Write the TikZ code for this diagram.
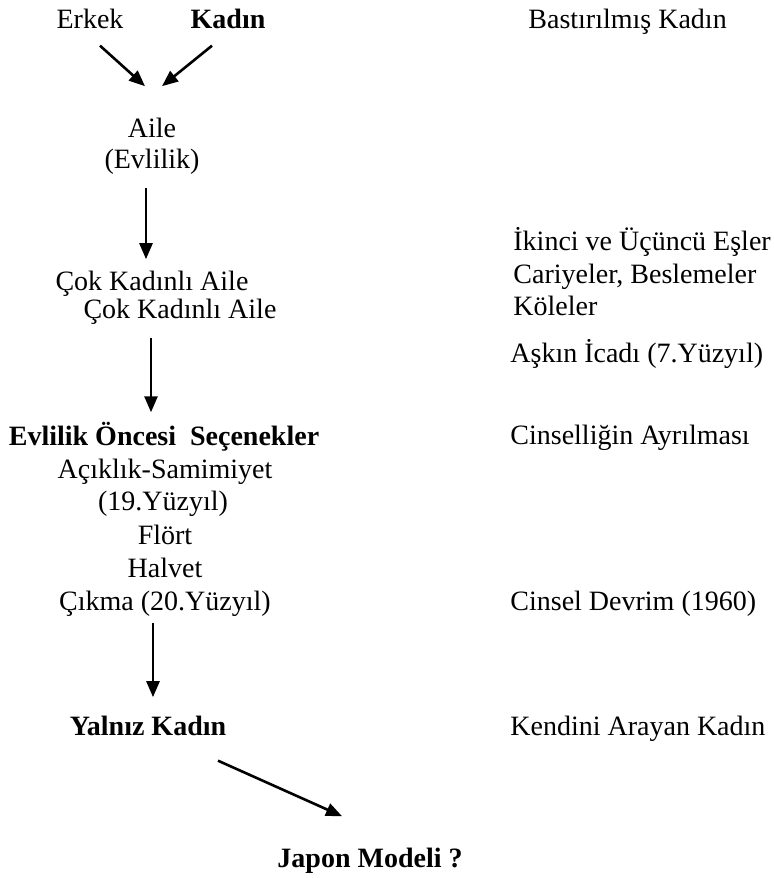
\documentclass[tikz,border=0pt]{standalone}
\usepackage{fontspec}
\setmainfont{Liberation Serif}
\usetikzlibrary{arrows, arrows.meta}

\begin{document}
\begin{tikzpicture}[x=0.5pt, y=-0.5pt,
    txt/.style={anchor=base, inner sep=0pt, font=\fontsize{14}{16}\selectfont},
    bld/.style={txt, font=\fontsize{14}{16}\selectfont\bfseries},
    rtxt/.style={txt, anchor=base west},
    arr/.style={-{Triangle[length=8pt, width=6.5pt]}, line width=1.3pt}]
      \useasboundingbox (0, 0) rectangle (773, 878);

      \node[txt] (erkek) at (90, 28) {Erkek};
      \node[bld] (kadin) at (228, 28) {Kadın};
      \node[rtxt] (bastirilmis) at (528, 28) {Bastırılmış Kadın};
      \node[txt] (aile) at (152, 137) {Aile};
      \node[txt] (evlilik) at (152, 168) {(Evlilik)};
      \node[txt] (cok1) at (152, 290) {Çok Kadınlı Aile};
      \node[txt] (cok2) at (180, 318) {Çok Kadınlı Aile};
      \node[rtxt] (esler) at (513, 250) {İkinci ve Üçüncü Eşler};
      \node[rtxt] (cariyeler) at (513, 283) {Cariyeler, Beslemeler};
      \node[rtxt] (koleler) at (513, 315) {Köleler};
      \node[rtxt] (ask) at (510, 362) {Aşkın İcadı (7.Yüzyıl)};
      \node[rtxt] (cinsellik) at (510, 444) {Cinselliğin Ayrılması};
      \node[bld] (oncesi) at (164, 445) {Evlilik Öncesi~ Seçenekler};
      \node[txt] (aciklik) at (165, 478) {Açıklık-Samimiyet};
      \node[txt] (yuzyil19) at (163, 510) {(19.Yüzyıl)};
      \node[txt] (flort) at (165, 544) {Flört};
      \node[txt] (halvet) at (165, 577) {Halvet};
      \node[txt] (cikma) at (165, 610) {Çıkma (20.Yüzyıl)};
      \node[rtxt] (devrim) at (510, 610) {Cinsel Devrim (1960)};
      \node[bld] (yalniz) at (148, 735) {Yalnız Kadın};
      \node[rtxt] (arayan) at (510, 735) {Kendini Arayan Kadın};
      \node[bld] (japon) at (370, 867) {Japon Modeli ?};

      \draw[arr] ([shift={(10, 17)}]erkek.south) -- ([shift={(-7, -31)}]aile.north);
      \draw[arr] ([shift={(-16, 17)}]kadin.south) -- ([shift={(10, -31)}]aile.north);
      \draw[arr] ([shift={(-6, 14)}]evlilik.south) -- ([shift={(-6, -11)}]cok1.north);
      \draw[arr] ([shift={(-29, 14)}]cok2.south) -- ([shift={(-13, -9)}]oncesi.north);
      \draw[arr] ([shift={(-12, 7)}]cikma.south) -- ([shift={(5, -18)}]yalniz.north);
      \draw[arr] ([shift={(70, 25)}]yalniz.south) -- ([shift={(-28, -31)}]japon.north);
\end{tikzpicture}
\end{document}
